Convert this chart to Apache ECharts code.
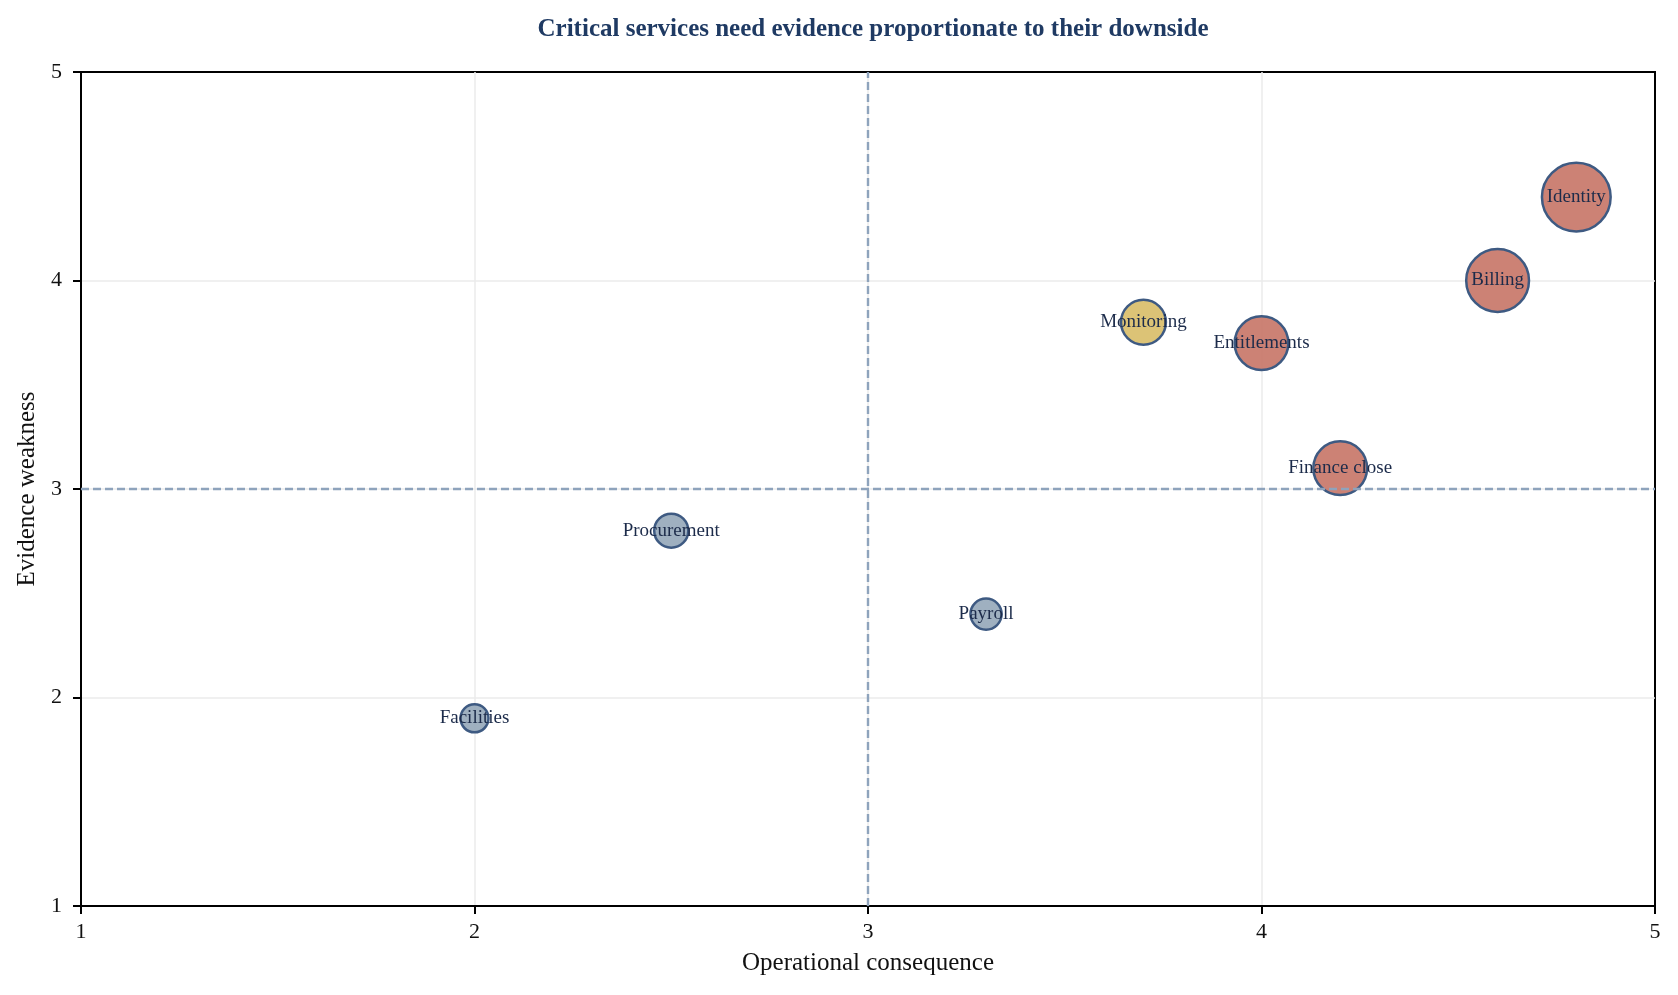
<!DOCTYPE html>
<html><head><meta charset="utf-8">
<script src="https://cdn.jsdelivr.net/npm/echarts@6/dist/echarts.min.js"></script>
<style>html,body{margin:0;padding:0;background:#fff}#c{width:1678px;height:995px}</style>
</head><body><div id="c"></div>
<script>
const services = ['Identity','Billing','Monitoring','Entitlements','Finance close','Procurement','Payroll','Facilities'];
const consequence = [4.8, 4.6, 3.7, 4.0, 4.2, 2.5, 3.3, 2.0];
const weakness = [4.4, 4.0, 3.8, 3.7, 3.1, 2.8, 2.4, 1.9];
const exposure = [50, 42, 22, 31, 31, 13, 11, 9];
const tier = ['critical','critical','watch','critical','critical','ok','ok','ok'];
const axisTicks = [1, 2, 3, 4, 5];
const thresholdX = 3, thresholdY = 3;

const FONT = "'Liberation Serif', 'Times New Roman', serif";
const tierColors = {critical:'rgba(199,116,102,0.9)', watch:'rgba(216,188,103,0.9)', ok:'rgba(149,167,185,0.9)'};

const points = services.map((name, i) => ({
  name: name,
  value: [consequence[i], weakness[i], exposure[i]],
  itemStyle: {color: tierColors[tier[i]]}
}));

const axisCommon = {
  min: axisTicks[0], max: axisTicks[axisTicks.length - 1], interval: 1,
  axisLine: {show: true, onZero: false, lineStyle: {color: '#000', width: 2}},
  axisTick: {show: true, inside: false, length: 8, lineStyle: {color: '#000', width: 2}},
  splitLine: {show: true, showMinLine: false, showMaxLine: false, lineStyle: {color: '#ebebeb', width: 1.5}},
  nameTextStyle: {fontFamily: FONT, fontSize: 25, color: '#111'},
  nameLocation: 'middle'
};

const chart = echarts.init(document.getElementById('c'), null, {renderer: 'canvas'});
chart.setOption({
  backgroundColor: '#fff',
  animation: false,
  title: {
    text: 'Critical services need evidence proportionate to their downside',
    left: 868, top: 12, textAlign: 'center',
    textStyle: {fontFamily: FONT, fontSize: 25, fontWeight: 'bold', color: '#1f3a63'}
  },
  grid: {left: 81, right: 23, top: 72, bottom: 89, show: true, borderColor: '#000', borderWidth: 2, backgroundColor: 'transparent'},
  xAxis: Object.assign({}, axisCommon, {
    type: 'value', name: 'Operational consequence', nameGap: 45,
    axisLabel: {fontFamily: FONT, fontSize: 22, color: '#111', margin: 15}
  }),
  yAxis: Object.assign({}, axisCommon, {
    type: 'value', name: 'Evidence weakness', nameGap: 40,
    axisLabel: {fontFamily: FONT, fontSize: 22, color: '#111', margin: 19}
  }),
  series: [{
    type: 'scatter',
    data: points,
    symbol: 'circle',
    symbolSize: v => Math.sqrt(v[2]) * 10 - 2,
    itemStyle: {borderColor: '#3e5a82', borderWidth: 2.5, opacity: 1},
    label: {
      show: true, position: 'inside', formatter: p => p.name,
      fontFamily: FONT, fontSize: 19, color: '#1c2b4a'
    },
    emphasis: {disabled: true},
    markLine: {
      silent: true, symbol: 'none', animation: false,
      label: {show: false},
      lineStyle: {color: '#8ea3bc', type: [8, 4], width: 2.4},
      data: [{xAxis: thresholdX}, {yAxis: thresholdY}]
    },
    z: 3
  }]
});
</script></body></html>
